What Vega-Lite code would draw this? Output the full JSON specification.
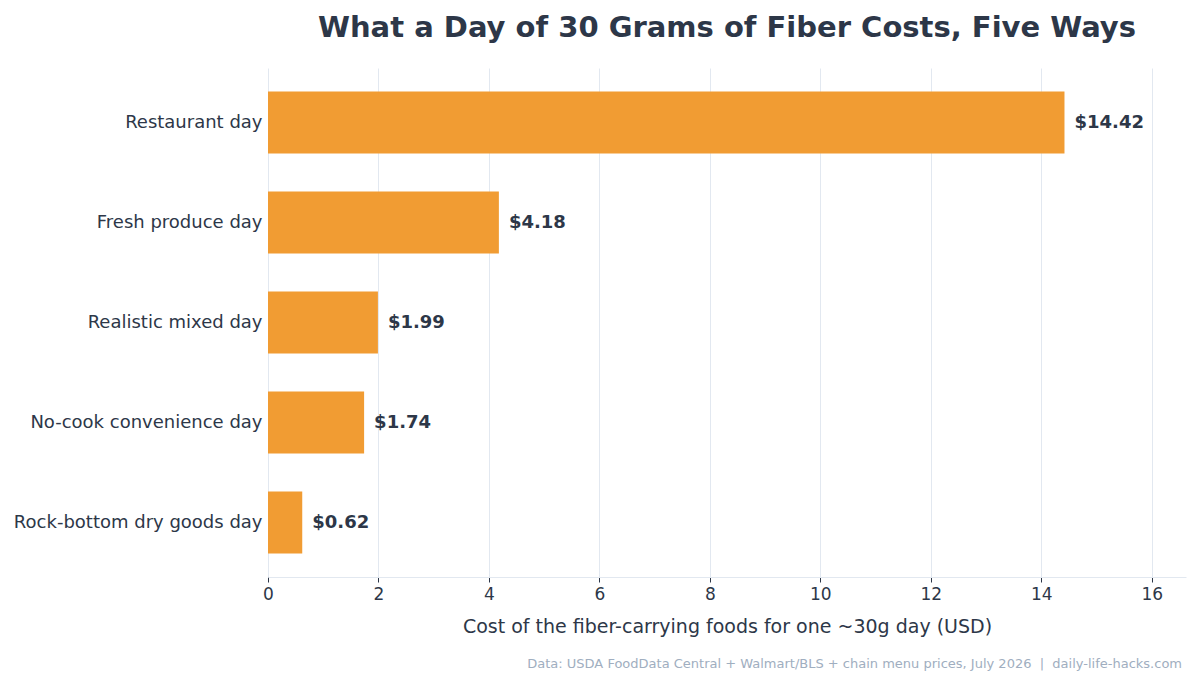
{
  "$schema": "https://vega.github.io/schema/vega-lite/v6.json",
  "background": "white",
  "padding": {"left": 13, "top": 14, "right": 14, "bottom": 4},
  "title": {
    "text": "Data: USDA FoodData Central + Walmart/BLS + chain menu prices, July 2026 \u00a0|\u00a0 daily-life-hacks.com",
    "orient": "bottom",
    "anchor": "end",
    "frame": "group",
    "font": "DejaVu Sans",
    "fontSize": 13,
    "fontWeight": "normal",
    "color": "#a0aec0",
    "offset": 22,
    "dx": -4
  },
  "config": {
    "font": "DejaVu Sans",
    "view": {"stroke": null},
    "concat": {"spacing": 0}
  },
  "data": {
    "values": [
      {"day": "Restaurant day", "cost": 14.42},
      {"day": "Fresh produce day", "cost": 4.18},
      {"day": "Realistic mixed day", "cost": 1.99},
      {"day": "No-cook convenience day", "cost": 1.74},
      {"day": "Rock-bottom dry goods day", "cost": 0.62}
    ]
  },
  "vconcat": [
    {
      "width": 918,
      "height": 509,
      "title": {
        "text": "What a Day of 30 Grams of Fiber Costs, Five Ways",
        "font": "DejaVu Sans",
        "fontSize": 29,
        "fontWeight": "bold",
        "color": "#2d3748",
        "anchor": "middle",
        "frame": "group",
        "offset": 25
      },
      "encoding": {
        "y": {
          "field": "day",
          "type": "nominal",
          "sort": {"field": "cost", "order": "descending"},
          "title": null,
          "scale": {"paddingInner": 0.38, "paddingOuter": 0.235},
          "axis": {
            "domain": false,
            "ticks": false,
            "grid": false,
            "labelFontSize": 18,
            "labelColor": "#2d3748",
            "labelPadding": 6,
            "labelLimit": 400
          }
        },
        "x": {
          "field": "cost",
          "type": "quantitative",
          "title": "Cost of the fiber-carrying foods for one ~30g day (USD)",
          "scale": {"domain": [0, 16.62], "nice": false, "zero": true},
          "axis": {
            "values": [0, 2, 4, 6, 8, 10, 12, 14, 16],
            "format": "d",
            "grid": true,
            "gridColor": "#e2e8f0",
            "gridWidth": 1,
            "domain": true,
            "domainColor": "#e2e8f0",
            "tickColor": "#2d3748",
            "tickSize": 5,
            "labelFlush": false,
            "labelFontSize": 17,
            "labelColor": "#2d3748",
            "labelPadding": 4,
            "titleFontSize": 19,
            "titleFontWeight": "normal",
            "titleColor": "#2d3748",
            "titlePadding": 15
          }
        }
      },
      "layer": [
        {
          "mark": {"type": "bar", "color": "#f19c33"}
        },
        {
          "mark": {
            "type": "text",
            "align": "left",
            "baseline": "middle",
            "dx": 10,
            "fontSize": 18,
            "fontWeight": "bold",
            "color": "#2d3748"
          },
          "encoding": {
            "text": {"field": "cost", "type": "quantitative", "format": "$.2f"}
          }
        }
      ]
    }
  ]
}
